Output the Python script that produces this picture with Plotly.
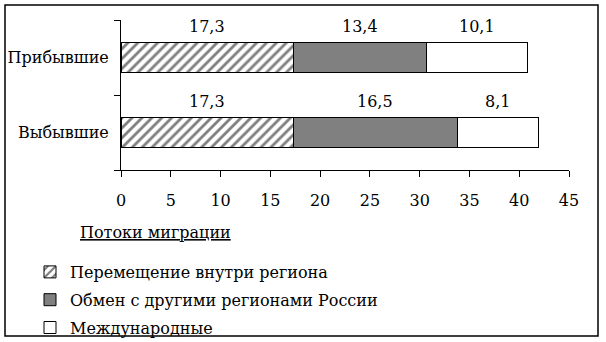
import plotly.graph_objects as go

categories = ["Выбывшие", "Прибывшие"]
series_names = ["Перемещение внутри региона", "Обмен с другими регионами России", "Международные"]
within_region = [17.3, 17.3]
other_regions = [16.5, 13.4]
international = [8.1, 10.1]
x_ticks = [0, 5, 10, 15, 20, 25, 30, 35, 40, 45]

FONT = "DejaVu Serif"

W, H = 606, 342
L, R, T, B = 121, 569, 20, 170

fig = go.Figure()
series = [within_region, other_regions, international]
styles = [
    dict(color="white", pattern=dict(shape="/", fgcolor="black", bgcolor="white", size=7, solidity=0.4)),
    dict(color="#808080"),
    dict(color="white"),
]
for i, (name, vals, st) in enumerate(zip(series_names, series, styles)):
    fig.add_trace(go.Bar(
        y=categories, x=vals, name=name, orientation="h",
        marker=dict(**st, line=dict(color="black", width=1)),
        legendgroup=f"g{i}", hoverinfo="skip",
    ))

# value labels above segments
annotations = []
for ci, cat in enumerate(categories):
    start = 0
    for vals in series:
        v = vals[ci]
        annotations.append(dict(
            x=start + v / 2, y=cat, xref="x", yref="y", text=f"{v:.1f}".replace(".", ","),
            showarrow=False, yshift=31, font=dict(family=FONT, size=16, color="black"),
        ))
        start += v

def px_x(p):
    return (p - L) / (R - L)

def px_y(p):
    return (B - p) / (B - T)

annotations.append(dict(
    x=px_x(78), y=px_y(232), xref="paper", yref="paper", xanchor="left", yanchor="middle",
    text="<u>Потоки миграции</u>", showarrow=False,
    font=dict(family=FONT, size=16, color="black"),
))

fig.update_layout(
    width=W, height=H,
    margin=dict(l=L, r=W - R, t=T, b=H - B, pad=0, autoexpand=False),
    paper_bgcolor="white", plot_bgcolor="white",
    barmode="stack", bargap=0.587,
    font=dict(family=FONT, size=16, color="black"),
    annotations=annotations,
    showlegend=True,
    legend=dict(
        x=px_x(30), y=px_y(255), xanchor="left", yanchor="top",
        traceorder="grouped", tracegroupgap=4,
        bgcolor="rgba(0,0,0,0)", font=dict(family=FONT, size=16, color="black"),
        itemwidth=30,
    ),
    shapes=[dict(
        type="rect", xref="paper", yref="paper",
        x0=px_x(5), x1=px_x(598), y0=px_y(336), y1=px_y(5),
        line=dict(color="black", width=1.5), fillcolor="rgba(0,0,0,0)", layer="below",
    )],
    xaxis=dict(
        range=[0, 45], tickvals=x_ticks, ticks="outside", ticklen=6, tickcolor="black",
        showline=True, linecolor="black", linewidth=1, showgrid=False, zeroline=False,
        ticklabelstandoff=10, fixedrange=True,
    ),
    yaxis=dict(
        categoryorder="array", categoryarray=categories, range=[-0.5, 1.5],
        ticks="outside", tickson="boundaries", ticklen=6, tickcolor="black",
        showline=True, linecolor="black", linewidth=1, showgrid=False, zeroline=False,
        ticklabelstandoff=8, fixedrange=True,
    ),
)

fig.write_html("out.html")
